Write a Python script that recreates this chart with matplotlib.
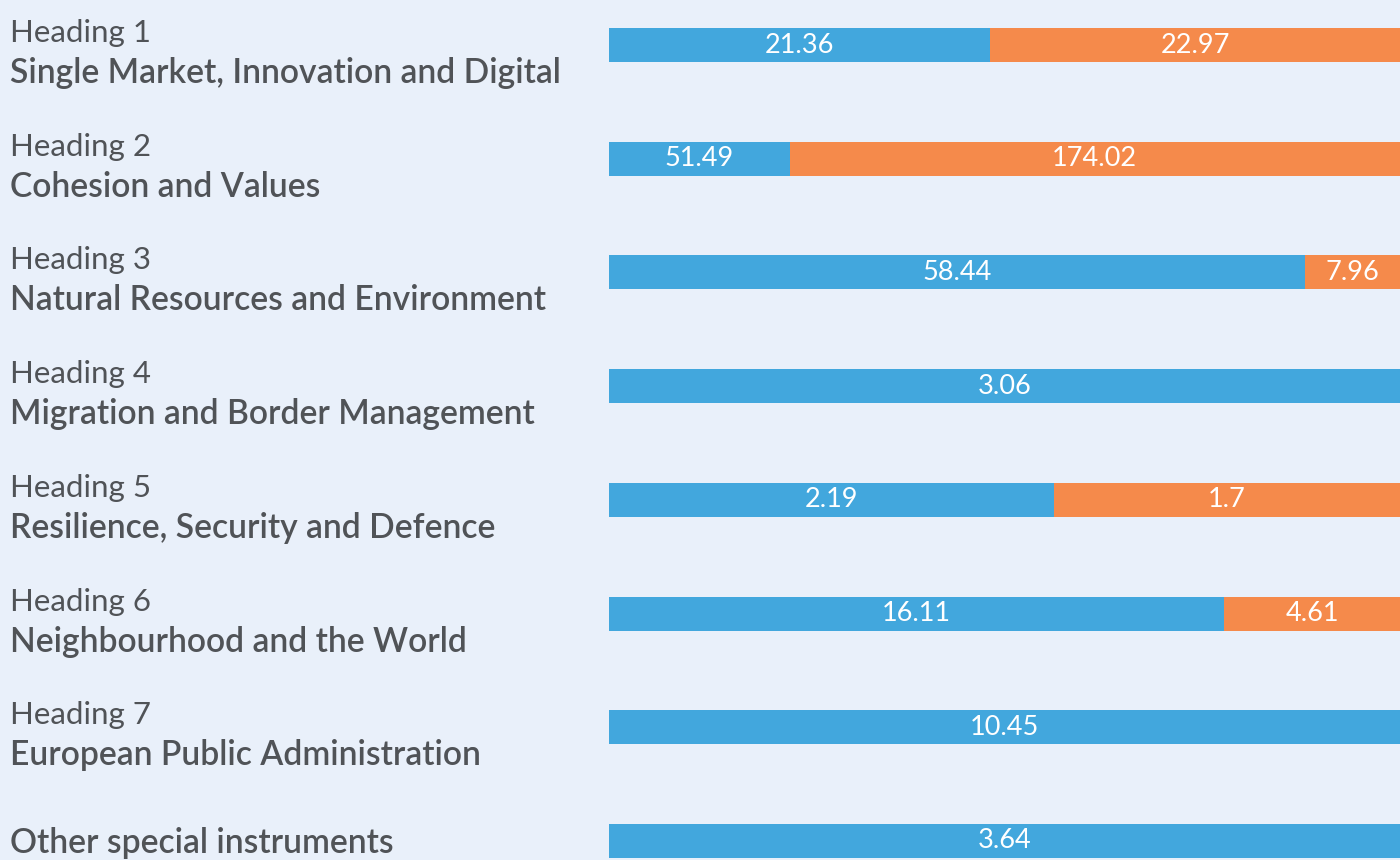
import matplotlib.pyplot as plt
import matplotlib.transforms as mtransforms

# --- Dati ---
headings = ["Heading 1", "Heading 2", "Heading 3", "Heading 4",
            "Heading 5", "Heading 6", "Heading 7", ""]
names = ["Single Market, Innovation and Digital", "Cohesion and Values",
         "Natural Resources and Environment", "Migration and Border Management",
         "Resilience, Security and Defence", "Neighbourhood and the World",
         "European Public Administration", "Other special instruments"]
blue_vals = [21.36, 51.49, 58.44, 3.06, 2.19, 16.11, 10.45, 3.64]
orange_vals = [22.97, 174.02, 7.96, 0, 1.7, 4.61, 0, 0]

# --- Stile ---
BG = "#E9F0FA"
BLUE = "#42A7DD"
ORANGE = "#F58A4B"
TEXT = "#505357"
plt.rcParams["font.family"] = ["Lato", "DejaVu Sans"]

fig = plt.figure(figsize=(14, 8.6), dpi=100, facecolor=BG)
ax = fig.add_axes([609 / 1400, 0, 1 - 609 / 1400, 1])
ax.set_facecolor(BG)

step = 113.7  # px tra le barre
n = len(names)
ax.set_ylim((860 - 45) / step, -45 / step)
ax.set_xlim(0, 1)
bar_h = 34 / step

for i in range(n):
    tot = blue_vals[i] + orange_vals[i]
    b = blue_vals[i] / tot
    o = orange_vals[i] / tot
    ax.barh(i, b, height=bar_h, color=BLUE, left=0)
    ax.text(b / 2, i, f"{blue_vals[i]:g}", color="white", ha="center",
            va="center", fontsize=19.5)
    if orange_vals[i] > 0:
        ax.barh(i, o, height=bar_h, color=ORANGE, left=b)
        ax.text(b + o / 2, i, f"{orange_vals[i]:g}", color="white",
                ha="center", va="center", fontsize=19.5)

ax.axis("off")

# Etichette a sinistra, allineate alle barre
trans = mtransforms.blended_transform_factory(fig.transFigure, ax.transData)
for i in range(n):
    if headings[i]:
        fig.text(10 / 1400, i - 3 / step, headings[i], transform=trans,
                 color=TEXT, fontsize=22.5, va="baseline", ha="left")
        fig.text(10 / 1400, i + 38 / step, names[i], transform=trans,
                 color=TEXT, fontsize=24.2, va="baseline", ha="left",
                 fontweight="semibold")
    else:
        fig.text(10 / 1400, i + 12 / step, names[i], transform=trans,
                 color=TEXT, fontsize=24.2, va="baseline", ha="left",
                 fontweight="semibold")

fig.savefig("out.png", dpi=100, facecolor=BG)
